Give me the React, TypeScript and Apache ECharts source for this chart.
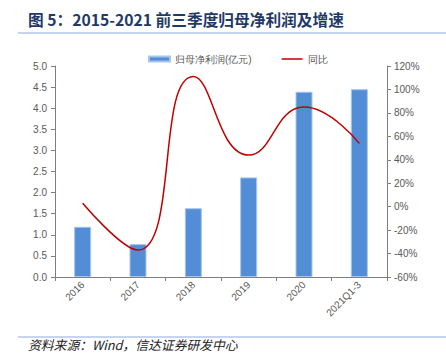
import React, { useEffect, useRef } from "react";
import * as echarts from "echarts";

const categories = ["2016", "2017", "2018", "2019", "2020", "2021Q1-3"];
const profitValues = [1.19, 0.78, 1.63, 2.36, 4.39, 4.45];
const yoyValues = [3, -37, 111, 44, 85, 54];
const titleText = "图 5：2015-2021 前三季度归母净利润及增速";
const sourceText = "资料来源：Wind，信达证券研发中心";
const barName = "归母净利润(亿元)";
const lineName = "同比";

export default function App() {
  const ref = useRef<HTMLDivElement>(null);
  useEffect(() => {
    document.body.style.margin = "0";
    const chart = echarts.init(ref.current!, undefined, { renderer: "svg" });
    const axisColor = "#7f7f7f";
    const labelColor = "#595959";
    const font = "Liberation Sans, Arial, sans-serif";
    chart.setOption({
      animation: false,
      textStyle: { fontFamily: font },
      graphic: [
        {
          type: "text",
          left: 28,
          top: 12,
          style: {
            text: titleText,
            fontSize: 15.7,
            fontWeight: "bold",
            fill: "#1f3a68",
            fontFamily: "Noto Sans CJK SC, sans-serif",
          },
        },
        {
          type: "line",
          shape: { x1: 18, y1: 33, x2: 446, y2: 33 },
          style: { stroke: "#8ea9db", lineWidth: 1 },
        },
        {
          type: "line",
          shape: { x1: 18, y1: 337, x2: 446, y2: 337 },
          style: { stroke: "#8ea9db", lineWidth: 1 },
        },
        {
          type: "text",
          left: 28,
          top: 338,
          style: {
            text: sourceText,
            fontSize: 12.8,
            fontStyle: "italic",
            fill: "#222",
            fontFamily: "Noto Sans CJK SC, sans-serif",
          },
        },
      ],
      legend: {
        left: 143,
        top: 49,
        itemWidth: 21,
        itemHeight: 5,
        itemGap: 30,
        textStyle: { fontSize: 10, color: labelColor },
        data: [
          { name: barName, icon: "rect" },
          {
            name: lineName,
            icon: "path://M0,0 L0.01,0 L0.01,0.01 Z M0,1.8 L21,1.8 L21,3.2 L0,3.2 Z M0,5 L0.01,5 L0.01,5.01 Z",
            itemStyle: { color: "#c00000" },
          },
        ],
      },
      grid: { left: 55, right: 59, top: 66, bottom: 85 },
      xAxis: {
        type: "category",
        data: categories,
        axisLine: { lineStyle: { color: axisColor } },
        axisTick: { show: true, interval: 0, length: 4, lineStyle: { color: axisColor } },
        axisLabel: { rotate: 45, fontSize: 10, color: labelColor, margin: 6, interval: 0 },
      },
      yAxis: [
        {
          type: "value",
          min: 0,
          max: 5,
          interval: 0.5,
          splitLine: { show: false },
          axisLine: { show: true, lineStyle: { color: axisColor } },
          axisTick: { show: true, length: 4, lineStyle: { color: axisColor } },
          axisLabel: {
            fontSize: 10,
            color: labelColor,
            margin: 8,
            formatter: (v: number) => v.toFixed(1),
          },
        },
        {
          type: "value",
          min: -60,
          max: 120,
          interval: 20,
          position: "right",
          splitLine: { show: false },
          axisLine: { show: true, lineStyle: { color: axisColor } },
          axisTick: { show: true, length: 4, lineStyle: { color: axisColor } },
          axisLabel: { fontSize: 10, color: labelColor, margin: 7, formatter: "{value}%" },
        },
      ],
      series: [
        {
          name: barName,
          type: "bar",
          data: profitValues,
          barWidth: 17,
          itemStyle: { color: "#538dd5", borderColor: "#a6c4ec", borderWidth: 1 },
        },
        {
          name: lineName,
          type: "line",
          yAxisIndex: 1,
          data: yoyValues,
          smooth: 0.5,
          showSymbol: false,
          symbol: "none",
          lineStyle: { color: "#c00000", width: 1.5 },
          itemStyle: { color: "#c00000" },
        },
      ],
    });
    return () => chart.dispose();
  }, []);
  return <div ref={ref} style={{ width: 446, height: 362 }} />;
}
